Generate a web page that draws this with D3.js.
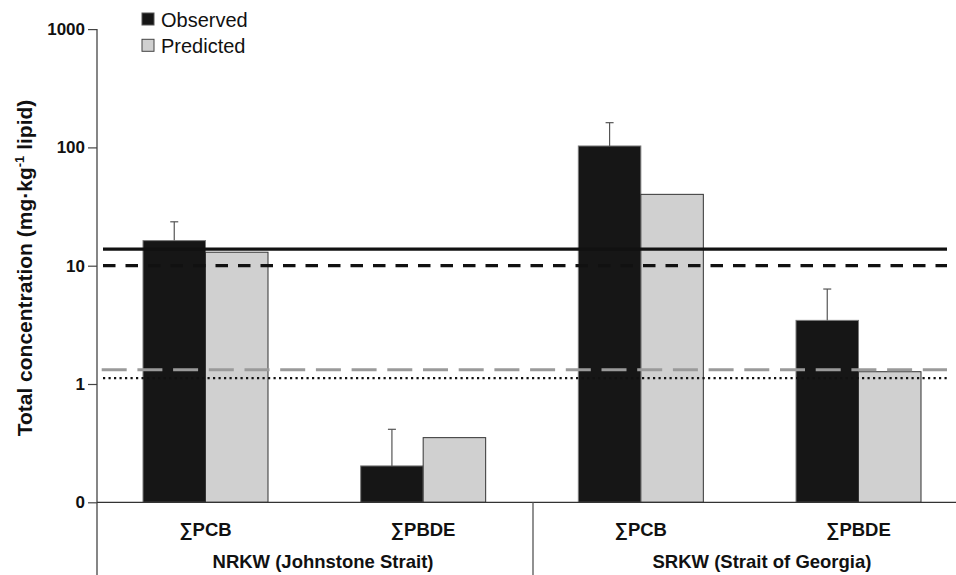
<!DOCTYPE html>
<html>
<head>
<meta charset="utf-8">
<script src="https://cdn.jsdelivr.net/npm/d3@7/dist/d3.min.js"></script>
<style>
  html, body { margin: 0; padding: 0; background: #fff; }
  svg { display: block; font-family: "Liberation Sans", Arial, Helvetica, sans-serif; }
</style>
</head>
<body>
<svg id="chart" width="956" height="575"></svg>
<script>
// Categories: compound group within each killer whale population
const categories = ["NRKW-PCB", "NRKW-PBDE", "SRKW-PCB", "SRKW-PBDE"];
const categoryLabels = ["∑PCB", "∑PBDE", "∑PCB", "∑PBDE"];
const groups = ["NRKW (Johnstone Strait)", "SRKW (Strait of Georgia)"];

// Total concentrations, mg·kg-1 lipid
const observed = [16.3, 0.203, 102.8, 3.45];
const observedUpper = [23.5, 0.414, 161.8, 6.35]; // mean + error
const predicted = [13.0, 0.352, 40.1, 1.27];

// Reference threshold lines
const thresholdSolid = 13.8;
const thresholdDashed = 10;
const thresholdGreyDashed = 1.32;
const thresholdDotted = 1.12;

// Axis ticks (bottom of the log axis is labelled 0)
const yTicks = [0.1, 1, 10, 100, 1000];
const yTickLabels = ["0", "1", "10", "100", "1000"];

const seriesNames = ["Observed", "Predicted"];

const svg = d3.select("#chart");

const axisX = 97, baseY = 502.3, topY = 29.1;

const y = d3.scaleLog().domain([0.1, 1000]).range([baseY, topY]);
const xc = d3.scalePoint().domain(categories).range([205.5, 858.5]);
const xg = d3.scalePoint().domain(groups).range([323, 762]);
const barW = 62.5;

// Y axis
const yAxis = d3.axisLeft(y)
  .tickValues(yTicks)
  .tickFormat((d, i) => yTickLabels[i])
  .tickSize(9)
  .tickPadding(3);

const gy = svg.append("g").attr("transform", `translate(${axisX},0)`).call(yAxis);
gy.select(".domain").remove();
gy.selectAll(".tick line").attr("stroke", "#444").attr("stroke-width", 1.2);
gy.selectAll(".tick text")
  .attr("font-size", 17).attr("font-weight", "bold").attr("fill", "#111")
  .attr("font-family", "Liberation Sans, Arial, sans-serif");

svg.append("line")
  .attr("x1", axisX).attr("x2", axisX).attr("y1", topY).attr("y2", 575)
  .attr("stroke", "#444").attr("stroke-width", 1.3);

// Bars
const barG = svg.append("g");
categories.forEach((c, i) => {
  const cx = xc(c);
  barG.append("rect")
    .attr("x", cx - barW).attr("width", barW)
    .attr("y", y(observed[i])).attr("height", baseY - y(observed[i]))
    .attr("fill", "#161616").attr("stroke", "#7a7a7a").attr("stroke-width", 1);
  barG.append("rect")
    .attr("x", cx).attr("width", barW)
    .attr("y", y(predicted[i])).attr("height", baseY - y(predicted[i]))
    .attr("fill", "#d0d0d0").attr("stroke", "#333").attr("stroke-width", 1);
  // error bar on the observed mean
  const ex = cx - barW / 2;
  barG.append("line")
    .attr("x1", ex).attr("x2", ex)
    .attr("y1", y(observed[i])).attr("y2", y(observedUpper[i]))
    .attr("stroke", "#555").attr("stroke-width", 1.2);
  barG.append("line")
    .attr("x1", ex - 4).attr("x2", ex + 4)
    .attr("y1", y(observedUpper[i])).attr("y2", y(observedUpper[i]))
    .attr("stroke", "#555").attr("stroke-width", 1.2);
});

// Threshold lines drawn over the bars
const lx1 = 103, lx2 = 947;
const lines = [
  { v: thresholdSolid, color: "#111", w: 3.2, dash: null, x1: lx1 },
  { v: thresholdDashed, color: "#111", w: 3.2, dash: "12.5,10", x1: lx1 },
  { v: thresholdGreyDashed, color: "#9a9a9a", w: 3.2, dash: "25,10.7", x1: 101.7 },
  { v: thresholdDotted, color: "#111", w: 2.2, dash: "2.2,3.3", x1: lx1 }
];
lines.forEach(l => {
  const ln = svg.append("line")
    .attr("x1", l.x1).attr("x2", lx2)
    .attr("y1", y(l.v)).attr("y2", y(l.v))
    .attr("stroke", l.color).attr("stroke-width", l.w);
  if (l.dash) ln.attr("stroke-dasharray", l.dash);
});

// Baseline and group separator
svg.append("line")
  .attr("x1", axisX).attr("x2", 956).attr("y1", baseY).attr("y2", baseY)
  .attr("stroke", "#333").attr("stroke-width", 1.3);
svg.append("line")
  .attr("x1", 533).attr("x2", 533).attr("y1", baseY).attr("y2", 575)
  .attr("stroke", "#555").attr("stroke-width", 1.3);

// Category and group labels
categories.forEach((c, i) => {
  svg.append("text")
    .attr("x", xc(c)).attr("y", 536)
    .attr("text-anchor", "middle")
    .attr("font-size", 18.5).attr("font-weight", "bold").attr("fill", "#111")
    .text(categoryLabels[i]);
});
groups.forEach(g => {
  svg.append("text")
    .attr("x", xg(g)).attr("y", 568)
    .attr("text-anchor", "middle")
    .attr("font-size", 18.5).attr("font-weight", "bold").attr("fill", "#111")
    .text(g);
});

// Y axis title
const title = svg.append("text")
  .attr("transform", "translate(32,268) rotate(-90)")
  .attr("text-anchor", "middle")
  .attr("font-size", 21).attr("font-weight", "bold").attr("fill", "#111");
title.append("tspan").text("Total concentration (mg·kg");
title.append("tspan").attr("font-size", 13).attr("dy", -8.5).text("-1");
title.append("tspan").attr("dy", 8.5).text(" lipid)");

// Legend
const legendFills = ["#161616", "#d0d0d0"];
const legendStrokes = ["#555", "#444"];
seriesNames.forEach((s, i) => {
  const ly = 13 + i * 26.3;
  svg.append("rect")
    .attr("x", 142).attr("y", ly).attr("width", 12).attr("height", 12)
    .attr("fill", legendFills[i]).attr("stroke", legendStrokes[i]).attr("stroke-width", 1);
  svg.append("text")
    .attr("x", 161).attr("y", ly + 13.8)
    .attr("font-size", 20).attr("fill", "#111")
    .text(s);
});
</script>
</body>
</html>
